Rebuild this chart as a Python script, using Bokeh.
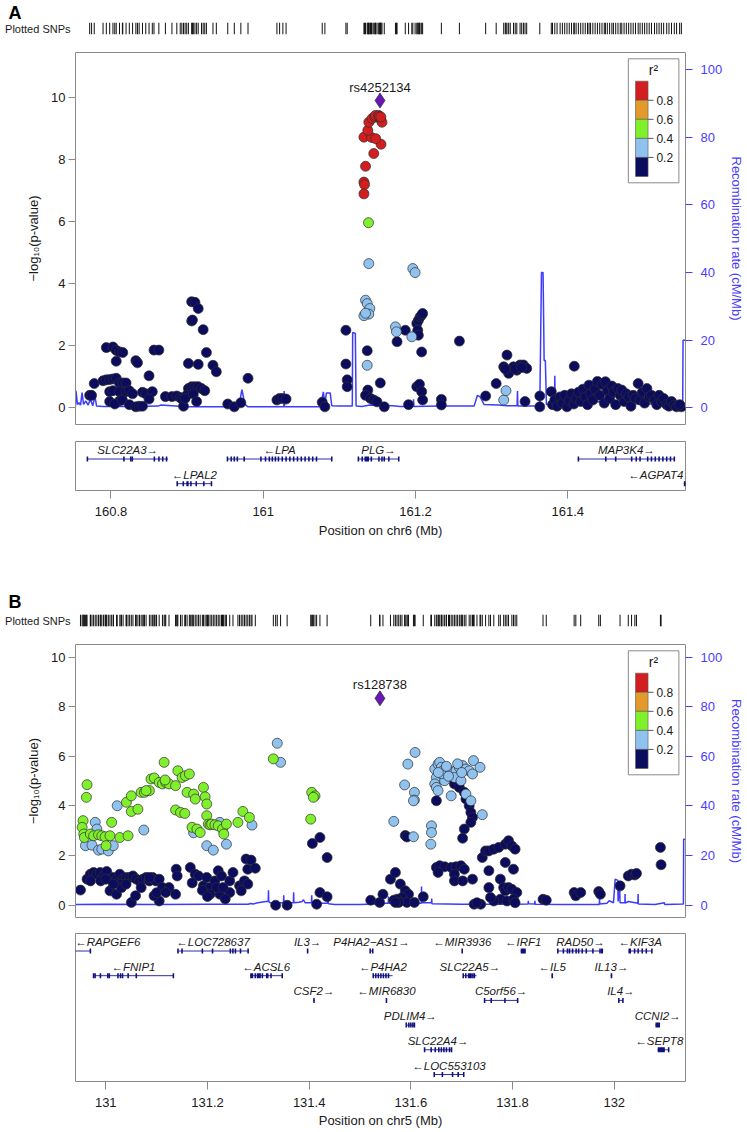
from bokeh.plotting import figure
from bokeh.models import (Range1d, LinearAxis, FixedTicker, CustomJSTickFormatter)
from bokeh.layouts import column
from bokeh.embed import file_html
from bokeh.resources import INLINE
from bokeh.core.properties import value

FONT = "Liberation Sans"

# ---------------------------------------------------------------- panel A data
a_xrange = (160.7534, 161.5547)
a_lead_name, a_lead_pos, a_lead_logp = "rs4252134", 161.1534, 9.91

a_r2_navy_pos = [
    160.7720, 160.7745, 160.7780, 160.7896, 160.7939, 160.7983, 160.8026, 160.8069, 160.8112, 160.8155,
    160.8198, 160.7939, 160.8026, 160.8069, 160.8112, 160.8155, 160.8069, 160.7983, 160.8026, 160.8112,
    160.8198, 160.8241, 160.8284, 160.7983, 160.8112, 160.8050, 160.8150, 160.8241, 160.8327, 160.8370,
    160.8414, 160.8327, 160.8348, 160.8500, 160.8414, 160.8457, 160.8543, 160.8500, 160.8565, 160.8629,
    160.8715, 160.8801, 160.8865, 160.8910, 160.8931, 160.8953, 160.9017, 160.9146, 160.9017, 160.9060,
    160.9103, 160.9146, 160.9189, 160.9232, 160.8995, 160.9082, 160.9125, 160.8974, 160.9060, 160.9103,
    160.9146, 160.9060, 160.9070, 160.9211, 160.9254, 160.9340, 160.9384, 160.9534, 160.9620, 160.9706,
    160.9800, 161.0180, 161.0215, 161.0258, 161.0300, 161.0775, 161.0810, 161.1086, 161.1086, 161.1103,
    161.1103, 161.1366, 161.1374, 161.1344, 161.1409, 161.1452, 161.1495, 161.1590, 161.1538,
    161.1866, 161.1758, 161.2017, 161.2038, 161.2060, 161.2081, 161.2094, 161.2030, 161.2038, 161.2081,
    161.2017, 161.2052, 161.2081, 161.1909, 161.2094, 161.2340, 161.2340, 161.2577, 161.2922, 161.3060,
    161.3159, 161.3202, 161.3245, 161.3288, 161.3331, 161.3374, 161.3418, 161.3461, 161.3224, 161.3180,
    161.3310, 161.3395, 161.3439, 161.3633, 161.3633, 161.3784, 161.4086,
    161.3800, 161.3830, 161.3860, 161.3900, 161.3930, 161.3960, 161.3990, 161.4020, 161.4050, 161.4080,
    161.4110, 161.4140, 161.4170, 161.4200, 161.4230, 161.4260, 161.4280, 161.4300, 161.4330, 161.4360,
    161.4390, 161.4420, 161.4450, 161.4480, 161.4495, 161.4520, 161.4550, 161.4580, 161.4600, 161.4630,
    161.4660, 161.4690, 161.4710, 161.4740, 161.4770, 161.4800, 161.4830, 161.4860, 161.4890, 161.4925,
    161.4950, 161.4980, 161.5010, 161.5040, 161.5070, 161.5100, 161.5140, 161.5170, 161.5200, 161.5230,
    161.5260, 161.5300, 161.5330, 161.5363, 161.5400, 161.5430, 161.5493, 161.5470]
a_r2_navy_logp = [
    0.40, 0.40, 0.78, 0.87, 0.90, 0.91, 0.93, 0.95, 0.80, 0.80,
    0.80, 1.94, 1.96, 1.85, 1.80, 1.78, 1.50, 0.52, 0.55, 0.52,
    0.52, 0.55, 0.45, 0.20, 0.22, 0.12, 0.25, 0.10, 0.03, 0.05,
    0.05, 1.52, 1.45, 1.03, 0.50, 0.45, 0.52, 0.28, 1.86, 1.86,
    0.36, 0.36, 0.38, 0.33, 0.28, 0.05, 1.43, 1.40, 0.62, 0.68,
    0.68, 0.68, 0.62, 0.55, 0.40, 0.45, 0.20, 0.30, 3.42, 3.40,
    3.20, 2.80, 2.83, 2.52, 1.78, 1.37, 1.16, 0.12, 0.03, 0.16,
    0.95, 0.25, 0.30, 0.30, 0.28, 0.18, 0.03, 2.50, 1.41, 0.90,
    0.68, 1.84, 0.57, 0.40, 0.30, 0.25, 0.19, 0.03, 0.80,
    2.50, 2.13, 2.72, 2.82, 2.93, 2.99, 3.04, 2.50, 2.34, 1.80,
    0.68, 0.76, 0.52, 0.10, 0.25, 0.27, 0.09, 2.15, 0.38, 0.78,
    1.32, 1.70, 1.21, 1.32, 1.21, 1.38, 1.38, 1.27, 1.11, 1.25,
    1.25, 1.30, 0.20, 0.38, 0.03, 0.52, 1.34,
    0.10, 0.25, 0.05, 0.35, 0.15, 0.40, 0.03, 0.22, 0.45, 0.12,
    0.30, 0.50, 0.20, 0.60, 0.35, 0.10, 0.73, 0.45, 0.25, 0.60,
    0.85, 0.40, 0.75, 0.15, 0.84, 0.55, 0.30, 0.70, 0.50, 0.10,
    0.62, 0.40, 0.57, 0.20, 0.45, 0.35, 0.05, 0.40, 0.30, 0.78,
    0.25, 0.50, 0.15, 0.62, 0.35, 0.40, 0.25, 0.10, 0.40, 0.20,
    0.30, 0.10, 0.05, 0.20, 0.08, 0.03, 0.03, 0.10]
a_r2_blue_pos = [161.1366, 161.1387, 161.1344, 161.1366, 161.1400, 161.1387, 161.1323, 161.1344,
                 161.1965, 161.1995, 161.1737, 161.1750, 161.1952, 161.3159, 161.3189]
a_r2_blue_logp = [1.37, 4.65, 3.47, 3.36, 3.20, 3.02, 2.97, 3.05,
                  4.49, 4.36, 2.61, 2.45, 2.29, 0.25, 0.55]
a_r2_green_pos = [161.1383]
a_r2_green_logp = [5.97]
a_r2_red_pos = [161.1344, 161.1323, 161.1331, 161.1323, 161.1452, 161.1547, 161.1323, 161.1422,
                161.1374, 161.1387, 161.1430, 161.1465, 161.1474, 161.1517, 161.1538, 161.1560,
                161.1525, 161.1545, 161.1478]
a_r2_red_logp = [7.79, 7.28, 7.20, 6.90, 8.20, 8.50, 8.73, 8.72,
                 8.95, 9.21, 9.33, 9.38, 9.43, 9.43, 9.32, 9.21,
                 9.40, 9.38, 8.68]

a_rec_pos = [160.7534, 160.754, 160.756, 160.758, 160.760, 160.762, 160.764, 160.767, 160.770, 160.773,
             160.776, 160.779, 160.781, 160.790, 160.830, 160.862, 160.865, 160.900, 160.950, 160.968,
             160.972, 160.976, 160.980, 161.020, 161.027, 161.0275, 161.028, 161.075, 161.079, 161.081,
             161.083, 161.088, 161.090, 161.100, 161.117, 161.1175, 161.121, 161.122, 161.130, 161.140,
             161.170, 161.180, 161.197, 161.1974, 161.198, 161.230, 161.277, 161.2814, 161.285, 161.290,
             161.309, 161.320, 161.3335, 161.334, 161.3345, 161.360, 161.3633, 161.3655, 161.3676, 161.369,
             161.3706, 161.372, 161.3825, 161.383, 161.3835, 161.400, 161.415, 161.450, 161.470, 161.500,
             161.530, 161.5510, 161.5515, 161.5547]
a_rec_rate = [0.5, 5.0, 1.0, 1.5, 0.8, 4.5, 1.0, 2.0, 0.8, 2.5,
              0.6, 3.5, 0.5, 0.4, 0.4, 0.5, 0.8, 0.3, 0.3, 0.5,
              5.4, 1.0, 0.3, 0.3, 0.3, 5.0, 0.3, 0.3, 4.7, 1.0,
              4.4, 4.4, 0.6, 0.5, 0.5, 22.3, 22.0, 0.5, 0.4, 0.8,
              0.6, 0.4, 0.4, 2.5, 0.4, 0.5, 0.5, 3.7, 3.2, 1.0,
              0.8, 0.6, 0.6, 5.0, 0.5, 0.5, 0.5, 40.0, 40.0, 14.0,
              14.0, 1.0, 1.0, 9.5, 1.0, 1.2, 1.8, 1.8, 1.0, 1.2,
              1.0, 0.6, 20.0, 20.0]

a_gene_name = ["SLC22A3", "LPAL2", "LPA", "PLG", "MAP3K4", "AGPAT4"]
a_gene_start = [160.769, 160.887, 160.953, 161.125, 161.414, 161.5525]
a_gene_end = [160.875, 160.932, 161.090, 161.178, 161.540, 161.556]
a_gene_strand = ["+", "-", "-", "+", "+", "-"]
a_gene_row = [0, 1, 0, 0, 0, 1]
a_gene_exons = [
    [160.769, 160.817, 160.826, 160.828, 160.857, 160.863, 160.868, 160.873],
    [160.887, 160.895, (160.899, 160.902), 160.905, 160.912, 160.922, 160.932],
    [160.953, 160.958, 160.962, 160.966, 160.975, 160.997, 161.003, 161.008, 161.012, 161.016, 161.020,
     161.025, 161.030, 161.035, 161.040, 161.045, 161.050, 161.055, 161.060, 161.065, 161.070, 161.090],
    [161.125, 161.130, (161.133, 161.139), 161.142, 161.152, 161.156, 161.159, 161.165, 161.178],
    [161.414, 161.450, 161.463, 161.484, 161.490, 161.495, 161.505, 161.510, 161.515, 161.520, 161.525,
     161.530, 161.535, 161.540],
    [(161.5525, 161.556)],
]
a_xticks = [160.8, 161.0, 161.2, 161.4]

# ---------------------------------------------------------------- panel B data
b_xrange = (130.9405, 132.1401)
b_lead_name, b_lead_pos, b_lead_logp = "rs128738", 131.5392, 8.34

b_r2_navy_pos = [
    130.9503, 130.9632, 130.9696, 130.9761, 130.9825, 130.9890, 130.9955, 131.0019, 131.0083, 131.0148,
    131.0212, 131.0277, 131.0341, 131.0406, 131.0470, 131.0535, 131.0600, 131.0664, 131.0729, 131.0793,
    131.0858, 131.0922, 131.0987, 131.1051, 130.9700, 130.9900, 131.0000, 131.0300, 131.0083, 131.0212,
    131.0309, 131.0503, 131.0586, 131.0696, 131.0858, 131.1051, 131.1115, 131.1244, 131.1373, 131.0950,
    131.1000, 131.1180, 131.0400, 131.0150, 131.1386, 131.1405, 131.1663, 131.1760, 131.1825, 131.1921,
    131.1986, 131.2051, 131.2147, 131.2212, 131.2277, 131.2438, 131.2502, 131.2631, 131.2760, 131.2857,
    131.2793, 131.2941, 131.2728, 131.2793, 131.2051, 131.2244, 131.2438, 131.2664, 131.2180, 131.2309,
    131.1900, 131.1700, 131.2000, 131.2350, 131.3341, 131.3567, 131.4063, 131.4212, 131.4353, 131.4212,
    131.4353, 131.4147, 131.5211,
    131.6502, 131.6857, 131.6954, 131.7051, 131.7083, 131.7147, 131.7180, 131.7212, 131.7180, 131.7051,
    131.7018, 131.5890, 131.5922, 131.6502, 131.6567, 131.6664, 131.6793, 131.6889, 131.6986, 131.7051,
    131.6535, 131.6857, 131.6857, 131.7018, 131.7212, 131.7405, 131.7470, 131.7534, 131.7631, 131.7728,
    131.7857, 131.7921, 131.7986, 131.8050, 131.8018, 131.7857, 131.7534, 131.7534, 131.7760, 131.7825,
    131.7857, 131.7921, 131.7986, 131.8083, 131.7760, 131.7889, 131.8018, 131.7631, 131.7567, 131.7373,
    131.7244, 131.7300, 131.8050, 131.5386, 131.5451, 131.5599, 131.5696, 131.5793, 131.5890, 131.5954,
    131.5825, 131.5728, 131.5922, 131.6070, 131.6244, 131.5664, 131.5761, 131.5696, 131.8599, 131.8663,
    131.9211, 131.9244, 131.9340, 131.9695, 131.9727, 132.0114, 132.0276, 132.0340, 132.0405, 132.0437,
    132.0908, 132.0921]
b_r2_navy_logp = [
    0.61, 1.05, 1.25, 1.32, 1.25, 1.32, 1.18, 1.36, 1.05, 1.12,
    1.05, 1.25, 1.05, 1.12, 1.12, 1.18, 1.05, 0.98, 1.05, 1.12,
    0.98, 1.12, 0.98, 1.05, 0.98, 0.98, 1.05, 0.85, 0.58, 0.44,
    0.71, 0.11, 0.38, 0.71, 1.12, 0.17, 0.71, 0.71, 0.44, 0.38,
    0.50, 0.51, 0.85, 0.85, 1.45, 1.18, 1.52, 1.25, 1.18, 0.78,
    1.12, 0.71, 0.98, 1.39, 1.18, 0.98, 1.32, 0.78, 1.86, 1.82,
    1.45, 1.49, 0.98, 0.85, 0.44, 0.44, 0.51, 0.58, 0.71, 0.71,
    0.60, 0.90, 0.35, 0.25, 0.00, 0.00, 2.49, 2.73, 1.92, 0.51,
    0.34, 0.04, 0.20,
    4.21, 4.89, 4.75, 4.55, 4.28, 4.01, 3.74, 3.54, 3.34, 3.07,
    2.70, 2.81, 2.75, 1.52, 1.59, 1.55, 1.52, 1.55, 1.59, 1.45,
    1.32, 1.25, 0.98, 0.98, 1.05, 1.92, 2.19, 2.19, 2.26, 2.33,
    2.46, 2.60, 2.39, 2.26, 1.45, 1.72, 1.39, 0.71, 1.05, 0.71,
    0.58, 0.71, 0.64, 0.51, 0.24, 0.17, 0.24, 0.17, 0.31, 0.04,
    0.04, 0.10, 0.10, 0.11, 0.44, 1.05, 1.32, 0.85, 0.58, 0.44,
    0.31, 0.24, 0.11, 0.11, 0.34, 0.20, 0.11, 0.11, 0.24, 0.20,
    0.51, 0.38, 0.51, 0.55, 0.44, 0.78, 1.18, 1.25, 1.22, 1.28,
    2.33, 1.63]
b_r2_blue_pos = [
    130.9600, 130.9729, 130.9858, 130.9922, 131.0051, 131.0148, 130.9793, 130.9825, 131.0225, 131.0748,
    131.1728, 131.1986, 131.2115, 131.2373, 131.2244, 131.2876, 131.3373, 131.3438,
    131.6083, 131.5941, 131.5877, 131.6070, 131.6070, 131.6051, 131.5664, 131.6051, 131.6406, 131.6406,
    131.6393, 131.6470, 131.6535, 131.6567, 131.6599, 131.6631, 131.6696, 131.6760, 131.6825, 131.6889,
    131.6954, 131.7018, 131.7083, 131.7147, 131.7212, 131.7231, 131.7360, 131.6502, 131.6470, 131.6502,
    131.6535, 131.6664, 131.6793, 131.6857, 131.6986, 131.7083, 131.7180, 131.7405, 131.6600, 131.6700,
    131.6920, 131.7000, 131.6540, 131.6740]
b_r2_blue_logp = [
    2.40, 2.42, 2.22, 2.26, 2.19, 2.40, 3.34, 3.07, 4.01, 3.03,
    2.92, 2.40, 2.22, 2.46, 3.34, 3.23, 6.53, 5.76,
    6.16, 5.69, 4.85, 4.55, 4.24, 4.21, 3.38, 2.76, 3.20, 2.93,
    2.46, 5.49, 5.69, 5.76, 5.56, 5.42, 5.36, 5.42, 5.36, 5.42,
    5.56, 5.63, 5.49, 5.42, 5.29, 5.83, 5.56, 5.15, 4.89, 4.75,
    4.62, 5.02, 4.41, 5.15, 5.02, 4.48, 4.21, 3.65, 5.30, 5.60,
    5.70, 5.35, 5.35, 5.20]
b_r2_green_pos = [
    130.9632, 130.9619, 130.9554, 130.9535, 130.9567, 130.9580, 130.9696, 130.9761, 130.9858, 130.9922,
    130.9987, 131.0083, 131.0006, 131.0277, 131.0438, 131.0116, 131.0406, 131.0503, 131.0503, 131.0632,
    131.0696, 131.0761, 131.0858, 131.0793, 131.0890, 131.0954, 131.1051, 131.1115, 131.1180, 131.1244,
    131.1167, 131.1373, 131.1148, 131.1418, 131.1502, 131.1567, 131.1644, 131.1599, 131.1728, 131.1760,
    131.1921, 131.1954, 131.1986, 131.1373, 131.1470, 131.1554, 131.1696, 131.1793, 131.1857, 131.1986,
    131.2018, 131.2051, 131.2083, 131.2147, 131.2212, 131.2296, 131.2373, 131.2321, 131.2599, 131.2696,
    131.2825, 131.3296, 131.4051, 131.4115, 131.4083, 131.4031]
b_r2_green_logp = [
    4.86, 4.35, 3.41, 3.14, 2.87, 2.73, 2.87, 2.80, 2.84, 2.80,
    2.76, 2.80, 2.40, 2.73, 2.80, 3.34, 4.15, 4.41, 3.78, 3.87,
    4.55, 4.55, 4.62, 4.62, 5.09, 5.13, 4.95, 4.89, 4.95, 4.89,
    5.05, 4.82, 5.76, 5.42, 5.15, 5.22, 5.29, 4.55, 4.48, 4.28,
    4.75, 4.37, 4.08, 3.84, 3.74, 3.70, 3.14, 3.07, 2.93, 3.61,
    3.27, 3.24, 3.27, 3.24, 3.20, 3.07, 3.27, 2.87, 3.34, 3.78,
    3.54, 5.90, 4.55, 4.41, 4.35, 3.47]

b_rec_pos = [130.9405, 131.000, 131.100, 131.200, 131.280, 131.285, 131.290, 131.299, 131.315, 131.3195,
             131.320, 131.3205, 131.323, 131.340, 131.3495, 131.350, 131.3505, 131.360, 131.369, 131.3695,
             131.370, 131.380, 131.386, 131.389, 131.392, 131.4045, 131.405, 131.4055, 131.410, 131.436,
             131.437, 131.438, 131.450, 131.500, 131.5435, 131.544, 131.5445, 131.5555, 131.556, 131.5565,
             131.600, 131.6205, 131.621, 131.6215, 131.6405, 131.641, 131.6415, 131.700, 131.800, 131.8305,
             131.831, 131.8315, 131.8435, 131.844, 131.8445, 131.900, 131.9705, 131.971, 131.9715, 131.9856,
             131.990, 131.9985, 132.0018, 132.007, 132.0075, 132.0105, 132.0114, 132.021, 132.0212, 132.0215,
             132.0276, 132.0465, 132.0469, 132.0473, 132.080, 132.0985, 132.099, 132.1360, 132.1365, 132.1401]
b_rec_rate = [0.3, 0.35, 0.3, 0.35, 0.4, 0.7, 0.5, 1.0, 1.5, 1.5,
              6.0, 1.5, 1.0, 1.0, 1.0, 4.0, 1.0, 1.0, 1.0, 5.2,
              1.0, 1.2, 1.5, 2.2, 1.0, 1.0, 4.0, 1.2, 0.8, 0.8,
              1.8, 0.6, 0.3, 0.3, 0.6, 2.5, 0.8, 0.8, 3.5, 0.8,
              0.8, 0.8, 7.5, 1.0, 1.0, 2.7, 0.6, 0.4, 0.4, 0.5,
              1.8, 0.6, 0.5, 1.8, 0.4, 0.3, 0.3, 2.5, 0.5, 0.8,
              1.8, 1.0, 10.5, 10.0, 1.5, 8.0, 1.0, 1.0, 4.5, 0.8,
              1.5, 0.8, 4.5, 0.5, 0.3, 1.0, 0.3, 0.5, 26.6, 26.6]

b_gene_name = ["RAPGEF6", "LOC728637", "IL3", "P4HA2\u2212AS1", "MIR3936", "IRF1", "RAD50", "KIF3A",
               "FNIP1", "ACSL6", "P4HA2", "SLC22A5", "IL5", "IL13",
               "CSF2", "MIR6830", "C5orf56", "IL4",
               "PDLIM4", "CCNI2", "SLC22A4", "SEPT8", "LOC553103"]
b_gene_start = [130.900, 131.142, 131.396, 131.520, 131.7005, 131.816, 131.889, 132.028,
                130.976, 131.284, 131.526, 131.703, 131.877, 131.993,
                131.408, 131.5515, 131.745, 132.009,
                131.591, 132.081, 131.627, 132.085, 131.646]
b_gene_end = [130.970, 131.280, 131.398, 131.525, 131.7015, 131.826, 131.978, 132.074,
              131.133, 131.347, 131.564, 131.729, 131.879, 131.996,
              131.411, 131.5525, 131.810, 132.017,
              131.607, 132.090, 131.680, 132.107, 131.704]
b_gene_strand = ["-", "-", "+", "+", "-", "-", "+", "-",
                 "-", "-", "-", "+", "-", "+",
                 "+", "-", "+", "+",
                 "+", "+", "+", "-", "-"]
b_gene_row = [0, 0, 0, 0, 0, 0, 0, 0,
              1, 1, 1, 1, 1, 1,
              2, 2, 2, 2,
              3, 3, 4, 4, 5]
b_gene_exons = [
    [(130.9695, 130.970)],
    [131.142, 131.150, 131.190, 131.210, 131.245, 131.250, 131.255, 131.265, 131.280],
    [(131.396, 131.398)],
    [131.520, 131.525],
    [131.701],
    [(131.816, 131.826)],
    [131.889, 131.900, 131.908, 131.912, 131.918, 131.925, 131.930, 131.937, 131.945, 131.958, 131.972,
     (131.974, 131.978)],
    [(132.028, 132.033), 132.040, 132.047, 132.055, 132.063, 132.074],
    [130.976, 130.979, (130.988, 130.991), 131.004, 131.007, 131.024, 131.029, 131.033, 131.044, 131.060,
     131.133],
    [(131.284, 131.290), 131.294, (131.297, 131.305), 131.308, (131.315, 131.320), 131.325, 131.347],
    [131.526, 131.531, 131.536, 131.541, 131.546, 131.551, 131.556],
    [131.703, 131.708, (131.712, 131.720), 131.722, 131.725],
    [(131.877, 131.879)],
    [(131.993, 131.996)],
    [(131.408, 131.411)],
    [131.552],
    [131.745, 131.758, 131.785, 131.810],
    [132.009, 132.017],
    [131.591, 131.596, 131.600, 131.604, 131.607],
    [(132.081, 132.090)],
    [131.627, 131.640, 131.648, 131.655, 131.660, 131.665, 131.670, 131.676, 131.680],
    [(132.0855, 132.0995), 132.107],
    [131.646, 131.662, 131.682, 131.693, 131.704],
]
b_xticks = [131.0, 131.2, 131.4, 131.6, 131.8, 132.0]

r2_class_value = {"navy": 0.1, "blue": 0.3, "green": 0.5, "red": 0.9}
legend_breaks = ["0.8", "0.6", "0.4", "0.2"]

# ---------------------------------------------------------------- styling
W = 747
BL, BR = 75, 53
FW = W - BL - BR
LD_BINS = [0.2, 0.4, 0.6, 0.8]
LD_COLORS = ["#0c0c5e", "#90c2ef", "#80f02c", "#e39a2c", "#d21e1e"]
LEAD_COLOR = "#6a16b4"
REC_COLOR = "#3c3cff"
AXIS_BLUE = "#4a3cff"
BOX = "#8a8a8a"
GENE_LINE = "#2c2ca6"
EXON = "#10107e"
TXT = "#1a1a1a"


def ld_color(r2):
    return LD_COLORS[sum(r2 >= b for b in LD_BINS)]


def base_fig(xr, yr, height, top, bottom, **kw):
    p = figure(width=W, height=height, x_range=xr, y_range=yr,
               output_backend="svg", toolbar_location=None,
               min_border_left=BL, min_border_right=BR,
               min_border_top=top, min_border_bottom=bottom, **kw)
    p.background_fill_color = "white"
    p.border_fill_color = "white"
    p.grid.visible = False
    return p


def strip_fig(xr, positions, letter, height, top, letter_standoff):
    p = base_fig(xr, Range1d(0, 1), height, top, 8, x_axis_location=None,
                 y_axis_location="left", title=letter)
    p.outline_line_color = None
    p.segment(x0=positions, x1=positions, y0=0, y1=1, line_color="#111111", line_width=1)
    # panel letter as the title, pushed to the page's left edge
    p.title.align = "left"
    p.title.offset = -(BL - 8)
    p.title.text_font = FONT
    p.title.text_font_size = "18px"
    p.title.text_font_style = "bold"
    p.title.text_color = "#000000"
    p.title.standoff = letter_standoff
    # "Plotted SNPs" as the single tick label of the strip's left axis
    ax = p.yaxis[0]
    ax.ticker = FixedTicker(ticks=[0.5])
    ax.formatter = CustomJSTickFormatter(code="return 'Plotted SNPs';")
    ax.major_tick_out, ax.major_tick_in = 0, 0
    ax.minor_tick_out, ax.minor_tick_in = 0, 0
    ax.axis_line_color = None
    ax.major_label_standoff = 5
    ax.major_label_text_font = FONT
    ax.major_label_text_font_size = "11px"
    ax.major_label_text_color = TXT
    return p


def main_fig(xr, yr, rr, fh, classes, lead, rec_pos, rec_rate):
    p = base_fig(xr, Range1d(*yr), 10 + fh + 8, 10, 8, x_axis_location=None)
    p.outline_line_color = BOX
    p.outline_line_width = 1
    ax = p.yaxis[0]
    ax.ticker = FixedTicker(ticks=[0, 2, 4, 6, 8, 10])
    ax.bounds = (0, 10)
    ax.major_tick_out, ax.major_tick_in = 7, 0
    ax.minor_tick_out, ax.minor_tick_in = 0, 0
    ax.axis_line_color = BOX
    ax.major_tick_line_color = BOX
    ax.major_label_text_font = FONT
    ax.major_label_text_font_size = "13px"
    ax.major_label_text_color = TXT
    ax.major_label_standoff = 3
    ax.axis_label = "\u2212log\u2081\u2080(p-value)"
    ax.axis_label_text_font = FONT
    ax.axis_label_text_font_size = "13px"
    ax.axis_label_text_font_style = "normal"
    ax.axis_label_text_color = TXT
    ax.axis_label_standoff = 7

    p.extra_y_ranges = {"rec": Range1d(*rr)}
    rax = LinearAxis(y_range_name="rec", ticker=FixedTicker(ticks=[0, 20, 40, 60, 80, 100]),
                     bounds=(0, 100), axis_label="Recombination rate (cM/Mb)")
    rax.major_tick_out, rax.major_tick_in = 7, 0
    rax.minor_tick_out, rax.minor_tick_in = 0, 0
    rax.axis_line_color = BOX
    rax.major_tick_line_color = AXIS_BLUE
    rax.major_label_text_font = FONT
    rax.major_label_text_font_size = "13px"
    rax.major_label_text_color = AXIS_BLUE
    rax.major_label_standoff = 8
    rax.axis_label_text_font = FONT
    rax.axis_label_text_font_size = "13px"
    rax.axis_label_text_font_style = "normal"
    rax.axis_label_text_color = AXIS_BLUE
    rax.axis_label_standoff = 4
    p.add_layout(rax, "right")

    p.line(rec_pos, rec_rate, y_range_name="rec", line_color=REC_COLOR, line_width=1.5)

    for pos, lp, r2 in sorted(classes, key=lambda c: c[2]):
        p.scatter(pos, lp, marker="circle", size=10, fill_color=ld_color(r2),
                  line_color="#2e2e2e", line_width=0.7)
    name, lx, ly = lead
    p.scatter([lx], [ly], marker="diamond", size=15, fill_color=LEAD_COLOR,
              line_color="#2e2e2e", line_width=0.7)
    p.text(x=[lx], y=[ly], text=[name], text_align="center", text_baseline="bottom",
           y_offset=-6, text_font=value(FONT), text_font_size="13px", text_color=TXT)

    # r^2 legend (pixel offsets from the frame's top-left corner)
    x0, x1 = xr.start, xr.end
    y0, y1 = yr
    def X(o):
        return x0 + o * (x1 - x0) / FW
    def Y(o):
        return y1 - o * (y1 - y0) / fh
    p.quad(left=[X(561)], right=[X(612.3)], top=[Y(6.3)], bottom=[Y(130.3)],
           fill_color="white", line_color=BOX, line_width=1)
    bh = 19.06
    cols = list(reversed(LD_COLORS))
    p.quad(left=[X(568.3)] * 5, right=[X(581)] * 5,
           top=[Y(28.7 + bh * k) for k in range(5)],
           bottom=[Y(28.7 + bh * (k + 1)) for k in range(5)],
           fill_color=cols, line_color="#555555", line_width=0.6)
    ty = [Y(28.7 + bh * k) for k in range(1, 5)]
    p.segment(x0=[X(581)] * 4, x1=[X(586.5)] * 4, y0=ty, y1=ty, line_color="#555555", line_width=1)
    p.text(x=[X(589.5)] * 4, y=ty, text=legend_breaks, text_align="left", text_baseline="middle",
           text_font=value(FONT), text_font_size="12px", text_color=TXT)
    p.text(x=[X(586.5)], y=[Y(17)], text=["r\u00b2"], text_align="center", text_baseline="middle",
           text_font=value(FONT), text_font_size="14px", text_color=TXT)
    return p


def gene_fig(xr, fh, top, bottom, names, starts, ends, strands, rows, exons, ticks, xlabel,
             lab_standoff, title_standoff):
    p = base_fig(xr, Range1d(0, fh), top + fh + bottom, top, bottom, y_axis_location=None)
    p.outline_line_color = BOX
    mpp = (xr.end - xr.start) / FW
    fs = 11.5
    lx, ly, lt = [], [], []
    gx0, gx1, gy = [], [], []
    el, er, ey = [], [], []
    for name, s, e, st, row, ex in zip(names, starts, ends, strands, rows, exons):
        yl = fh - 8.5 - 24.7 * row
        yg = fh - 17.5 - 24.7 * row
        gx0.append(s); gx1.append(e); gy.append(yg)
        for item in ex:
            a, b = (item, item) if not isinstance(item, tuple) else item
            if (b - a) < 1.6 * mpp:
                m = (a + b) / 2
                a, b = m - 0.8 * mpp, m + 0.8 * mpp
            el.append(a); er.append(b); ey.append(yg)
        text = name + "\u2192" if st == "+" else "\u2190" + name
        cx = (max(s, xr.start) + min(e, xr.end)) / 2
        half = fs * (0.62 * len(name) + 1.0) / 2 * mpp
        lo, hi = xr.start + 2 * mpp, xr.end - 3 * mpp
        if cx - half < lo:
            cx = lo + half
        if cx + half > hi:
            cx = hi - half
        lx.append(cx); ly.append(yl); lt.append(text)
    p.segment(x0=gx0, x1=gx1, y0=gy, y1=gy, line_color=GENE_LINE, line_width=1)
    p.quad(left=el, right=er, top=[y + 2.5 for y in ey], bottom=[y - 2.5 for y in ey],
           fill_color=EXON, line_color=None)
    p.text(x=lx, y=ly, text=lt, text_align="center", text_baseline="middle",
           text_font=value(FONT), text_font_size=f"{fs}px", text_font_style="italic",
           text_color=TXT)
    ax = p.xaxis[0]
    ax.ticker = FixedTicker(ticks=ticks)
    ax.bounds = (ticks[0], ticks[-1])
    ax.formatter = CustomJSTickFormatter(code="return String(Math.round(tick*10)/10);")
    ax.major_tick_out, ax.major_tick_in = 8, 0
    ax.minor_tick_out, ax.minor_tick_in = 0, 0
    ax.axis_line_color = BOX
    ax.major_tick_line_color = BOX
    ax.major_label_text_font = FONT
    ax.major_label_text_font_size = "13px"
    ax.major_label_text_color = TXT
    ax.major_label_standoff = lab_standoff
    ax.axis_label = xlabel
    ax.axis_label_text_font = FONT
    ax.axis_label_text_font_size = "13px"
    ax.axis_label_text_font_style = "normal"
    ax.axis_label_text_color = TXT
    ax.axis_label_standoff = title_standoff
    return p


# ---------------------------------------------------------------- build panels
xrA = Range1d(*a_xrange)
xrB = Range1d(*b_xrange)

a_classes = [(a_r2_navy_pos, a_r2_navy_logp, r2_class_value["navy"]),
             (a_r2_blue_pos, a_r2_blue_logp, r2_class_value["blue"]),
             (a_r2_green_pos, a_r2_green_logp, r2_class_value["green"]),
             (a_r2_red_pos, a_r2_red_logp, r2_class_value["red"])]
b_classes = [(b_r2_navy_pos, b_r2_navy_logp, r2_class_value["navy"]),
             (b_r2_blue_pos, b_r2_blue_logp, r2_class_value["blue"]),
             (b_r2_green_pos, b_r2_green_logp, r2_class_value["green"])]

a_all_pos = sorted(set(a_r2_navy_pos + a_r2_blue_pos + a_r2_green_pos + a_r2_red_pos + [a_lead_pos]))
b_all_pos = sorted(set(b_r2_navy_pos + b_r2_blue_pos + b_r2_green_pos + [b_lead_pos]))

sA = strip_fig(xrA, a_all_pos, "A", 42, 22, 0)
mA = main_fig(xrA, (-0.54, 11.46), (-4.94, 105.1), 372, a_classes,
              (a_lead_name, a_lead_pos, a_lead_logp), a_rec_pos, a_rec_rate)
gA = gene_fig(xrA, 49, 9, 58, a_gene_name, a_gene_start, a_gene_end, a_gene_strand, a_gene_row,
              a_gene_exons, a_xticks, "Position on chr6 (Mb)", 8, 4)

sB = strip_fig(xrB, b_all_pos, "B", 86, 66, 6)
mB = main_fig(xrB, (-0.496, 10.512), (-4.96, 105.12), 273, b_classes,
              (b_lead_name, b_lead_pos, b_lead_logp), b_rec_pos, b_rec_rate)
gB = gene_fig(xrB, 148, 8, 49, b_gene_name, b_gene_start, b_gene_end, b_gene_strand, b_gene_row,
              b_gene_exons, b_xticks, "Position on chr5 (Mb)", 8, 3)

layout = column(sA, mA, gA, sB, mB, gB, spacing=0)
open("out.html", "w").write(file_html(layout, INLINE))
